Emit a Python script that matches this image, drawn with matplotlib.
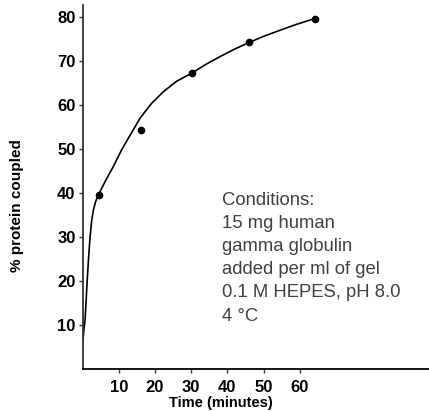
import matplotlib
matplotlib.use("Agg")
import matplotlib.pyplot as plt

# measured data points
t_points = [4.6, 16.2, 30.2, 46.0, 64.2]
y_points = [39.5, 54.3, 67.3, 74.3, 79.6]

# fitted curve
t_curve = [0, 0.4, 0.7, 1.0, 1.3, 1.7, 2.1, 2.5, 3.0, 3.6, 4.4, 6.5, 8.5, 10.8,
           12.7, 15.9, 19, 22.3, 26, 30.3, 34, 38, 42, 46, 50, 54.6, 59, 64]
y_curve = [5.5, 9, 11.1, 15.5, 20.2, 25.5, 30.1, 33.5, 36.1, 38, 39.6, 43, 46,
           49.8, 52.5, 57, 60.3, 63.0, 65.4, 67.3, 69.2, 71, 72.7, 74.2, 75.6,
           77, 78.3, 79.6]

x_ticks = [10, 20, 30, 40, 50, 60]
y_ticks = [10, 20, 30, 40, 50, 60, 70, 80]

conditions = ("Conditions:\n15 mg human\ngamma globulin\nadded per ml of gel\n"
              "0.1 M HEPES, pH 8.0\n4 \u00b0C")

W, H = 429, 411
fig = plt.figure(figsize=(W / 100, H / 100), dpi=100)
x0, y0, x1, y1 = 82.5, 369, 429, 5
ax = fig.add_axes([x0 / W, 1 - y0 / H, (x1 - x0) / W, (y0 - y1) / H])

ax.plot(t_curve, y_curve, color="black", lw=1.2, solid_capstyle="round",
        solid_joinstyle="round")
ax.plot(t_points, y_points, "o", color="black", ms=4.5)

ax.set_xlim(0, (x1 - x0) / 3.62)
ax.set_ylim(0, (y0 - y1) / 4.4)
ax.set_xticks(x_ticks)
ax.set_yticks(y_ticks)
for s in ["top", "right"]:
    ax.spines[s].set_visible(False)
ax.spines["left"].set_color("#333333")
ax.spines["left"].set_linewidth(1.3)
ax.spines["bottom"].set_color("black")
ax.spines["bottom"].set_linewidth(1.3)
ax.tick_params(length=3, width=1, color="#333333", pad=2)
ax.tick_params(axis="x", pad=5)
for lab in ax.get_xticklabels() + ax.get_yticklabels():
    lab.set_fontfamily("Liberation Sans")
    lab.set_fontweight("bold")
    lab.set_fontsize(12)

fig.text(221 / W, 1 - 403 / H, "Time (minutes)", ha="center", va="center",
         fontfamily="Liberation Sans", fontweight="bold", fontsize=10.5)
fig.text(17 / W, 1 - 206 / H, "% protein coupled", ha="center", va="center",
         rotation=90, fontfamily="Liberation Sans", fontweight="bold", fontsize=11)

fig.text(222 / W, 1 - 192 / H, conditions, ha="left", va="top",
         fontfamily="Liberation Sans", fontsize=13.3, color="#404040",
         linespacing=1.47)

fig.savefig("out.png", dpi=100)
